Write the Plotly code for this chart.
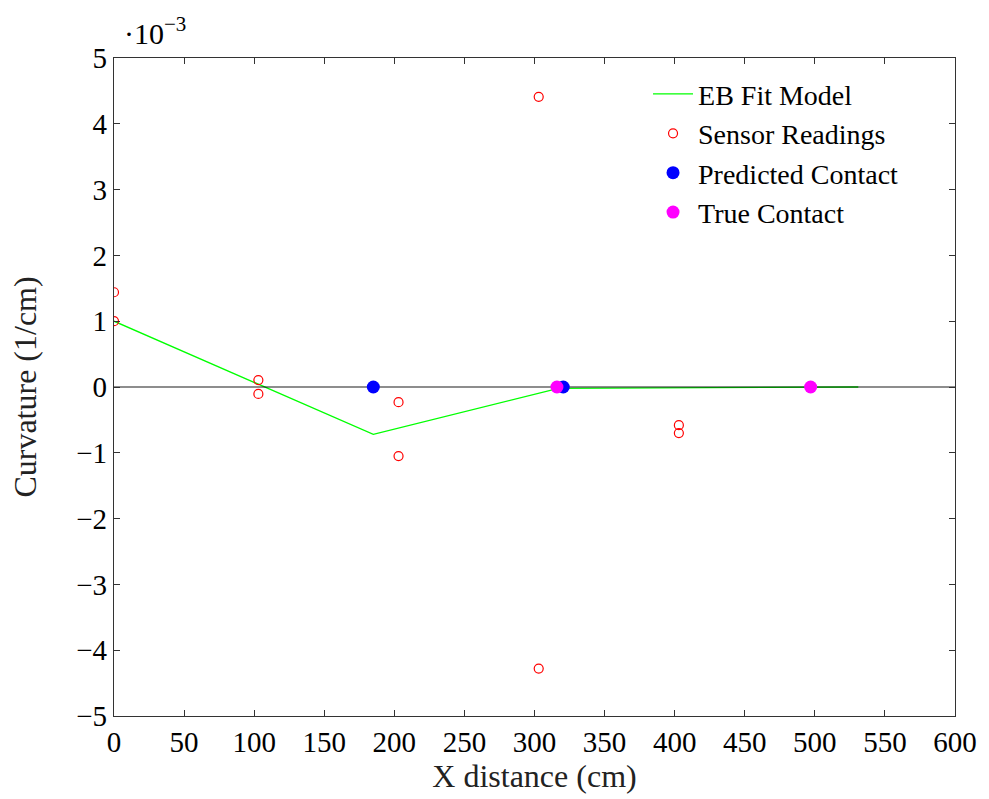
import plotly.graph_objects as go

# Curvature values are in 1/cm; plotted in units of 1e-3
SCALE = 1e3

fit_x = [0, 185, 317, 531]
fit_y = [1.0e-3, -0.72e-3, -0.02e-3, 0.0]

sensor_x = [0, 0, 103, 103, 203, 203, 303, 303, 403, 403]
sensor_y = [1.44e-3, 1.0e-3, 0.106e-3, -0.106e-3, -0.23e-3, -1.05e-3,
            4.41e-3, -4.28e-3, -0.58e-3, -0.70e-3]

pred_x = [185, 320.5]
pred_y = [0.0, 0.0]

true_x = [316, 497]
true_y = [0.0, 0.0]

x_ticks = list(range(0, 601, 50))
y_ticks = list(range(-5, 6, 1))

FONT = "Liberation Serif"
TICK_SIZE = 29
TITLE_SIZE = 32
LEGEND_SIZE = 28

fig = go.Figure()

fig.add_trace(go.Scatter(
    x=fit_x, y=[v * SCALE for v in fit_y], mode="lines",
    line=dict(color="#00ff00", width=1.3), name="EB Fit Model"))

# zero reference line drawn over the fit
fig.add_trace(go.Scatter(
    x=[0, 600], y=[0, 0], mode="lines",
    line=dict(color="rgba(0,0,0,0.6)", width=1.5),
    showlegend=False, hoverinfo="skip"))

fig.add_trace(go.Scatter(
    x=sensor_x, y=[v * SCALE for v in sensor_y], mode="markers",
    marker=dict(symbol="circle-open", color="red", size=9, line=dict(width=1.2)),
    name="Sensor Readings"))

fig.add_trace(go.Scatter(
    x=pred_x, y=[v * SCALE for v in pred_y], mode="markers",
    marker=dict(symbol="circle", color="blue", size=13),
    name="Predicted Contact"))

fig.add_trace(go.Scatter(
    x=true_x, y=[v * SCALE for v in true_y], mode="markers",
    marker=dict(symbol="circle", color="magenta", size=13),
    name="True Contact"))

axis_common = dict(
    showgrid=False, zeroline=False, showline=True, linecolor="#333",
    linewidth=1.2, mirror="ticks", ticks="inside", ticklen=6,
    tickcolor="#333", tickwidth=1,
    tickfont=dict(family=FONT, size=TICK_SIZE, color="black"),
)

fig.update_xaxes(
    range=[0, 600], tickvals=x_ticks, ticktext=[str(t) for t in x_ticks],
    title=dict(text="X distance (cm)", font=dict(family=FONT, size=TITLE_SIZE, color="#222"), standoff=6),
    **axis_common)

fig.update_yaxes(
    range=[-5, 5], tickvals=y_ticks,
    ticktext=[("\u2212" + str(-t)) if t < 0 else str(t) for t in y_ticks],
    title=dict(text="Curvature (1/cm)", font=dict(family=FONT, size=TITLE_SIZE, color="#222"), standoff=30),
    **axis_common)

fig.add_annotation(
    x=0, y=1, xref="paper", yref="paper", xanchor="left", yanchor="bottom",
    xshift=8, yshift=6, showarrow=False,
    text="\u00b710<sup>\u22123</sup>",
    font=dict(family=FONT, size=30, color="black"))

fig.update_layout(
    width=989, height=799,
    margin=dict(l=114, r=29, t=58, b=83),
    plot_bgcolor="white", paper_bgcolor="white",
    font=dict(family=FONT, color="black"),
    legend=dict(
        x=0.635, y=0.983, xanchor="left", yanchor="top",
        bgcolor="rgba(0,0,0,0)", borderwidth=0,
        font=dict(family=FONT, size=LEGEND_SIZE, color="black"),
        tracegroupgap=0, itemwidth=40),
    showlegend=True,
)

fig.write_html("out.html")
